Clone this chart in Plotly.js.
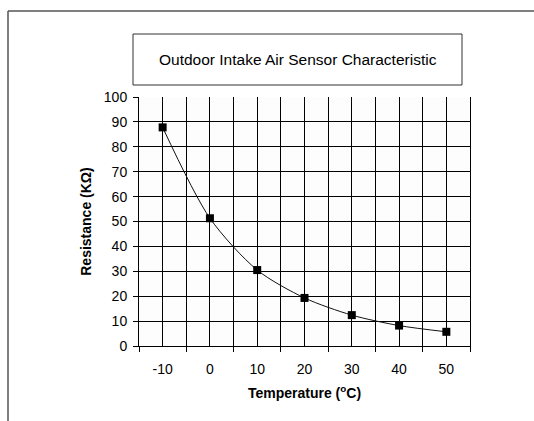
<!DOCTYPE html>
<html>
<head>
<meta charset="utf-8">
<script src="https://cdn.plot.ly/plotly-3.0.1.min.js"></script>
<style>html,body{margin:0;padding:0;background:#fff;}#chart{width:534px;height:421px;}</style>
</head>
<body>
<div id="chart"></div>
<script>
const temperatures = [-10, 0, 10, 20, 30, 40, 50];
const resistance = [87.8, 51.3, 30.5, 19.3, 12.4, 8.2, 5.7];
const xTickLabels = ['-10', '0', '10', '20', '30', '40', '50'];
const chartTitle = 'Outdoor Intake Air Sensor Characteristic';
const xTitle = 'Temperature (<sup>o</sup>C)';
const yTitle = 'Resistance (KΩ)';

const W = 534, H = 421;
const px = x => x / W;
const py = y => 1 - y / H;

const trace = {
  x: temperatures,
  y: resistance,
  type: 'scatter',
  mode: 'lines+markers',
  line: {shape: 'spline', smoothing: 0.8, color: '#111', width: 1},
  marker: {symbol: 'square', size: 8, color: '#000'},
  hoverinfo: 'skip'
};

const font = {family: 'Liberation Sans, Arial, sans-serif', color: '#000'};

const layout = {
  width: W, height: H,
  margin: {l: 0, r: 0, t: 0, b: 0},
  paper_bgcolor: '#fff',
  plot_bgcolor: '#fdfdfd',
  showlegend: false,
  font: Object.assign({size: 14}, font),
  xaxis: {
    domain: [px(139), px(470)],
    range: [-15, 55],
    tickmode: 'array',
    tickvals: temperatures,
    ticktext: xTickLabels,
    ticks: '',
    ticklabelstandoff: 10,
    showgrid: true, gridcolor: '#000', gridwidth: 1,
    zeroline: false,
    showline: true, linecolor: '#000', linewidth: 1,
    minor: {tick0: -15, dtick: 10, ticks: 'outside', ticklen: 5, tickcolor: '#000', showgrid: true, gridcolor: '#000', gridwidth: 1},
    tickfont: Object.assign({size: 14}, font),
    title: {text: xTitle, font: Object.assign({size: 14, weight: 'bold'}, font), standoff: 12},
    fixedrange: true
  },
  yaxis: {
    domain: [py(346), py(97)],
    range: [0, 100],
    dtick: 10,
    ticks: 'outside', ticklen: 5, tickcolor: '#000',
    ticklabelstandoff: 3,
    showgrid: true, gridcolor: '#000', gridwidth: 1,
    zeroline: false,
    showline: true, linecolor: '#000', linewidth: 1,
    mirror: true,
    tickfont: Object.assign({size: 14}, font),
    title: {text: yTitle, font: Object.assign({size: 14, weight: 'bold'}, font), standoff: 8},
    fixedrange: true
  },
  shapes: [
    {type: 'rect', xref: 'paper', yref: 'paper', x0: px(133), x1: px(462), y0: py(85), y1: py(34), line: {color: '#333', width: 1}, fillcolor: '#fff', layer: 'above'},
    {type: 'line', xref: 'paper', yref: 'paper', x0: px(8), x1: px(534), y0: py(11), y1: py(11), line: {color: '#555', width: 1.5}},
    {type: 'line', xref: 'paper', yref: 'paper', x0: px(8), x1: px(8), y0: py(11), y1: py(421), line: {color: '#555', width: 1.5}}
  ],
  annotations: [
    {text: chartTitle, xref: 'paper', yref: 'paper', x: px(297.5), y: py(59.5), xanchor: 'center', yanchor: 'middle', showarrow: false, font: Object.assign({size: 15.5}, font)}
  ]
};

Plotly.newPlot('chart', [trace], layout, {displayModeBar: false, staticPlot: true});
</script>
</body>
</html>
